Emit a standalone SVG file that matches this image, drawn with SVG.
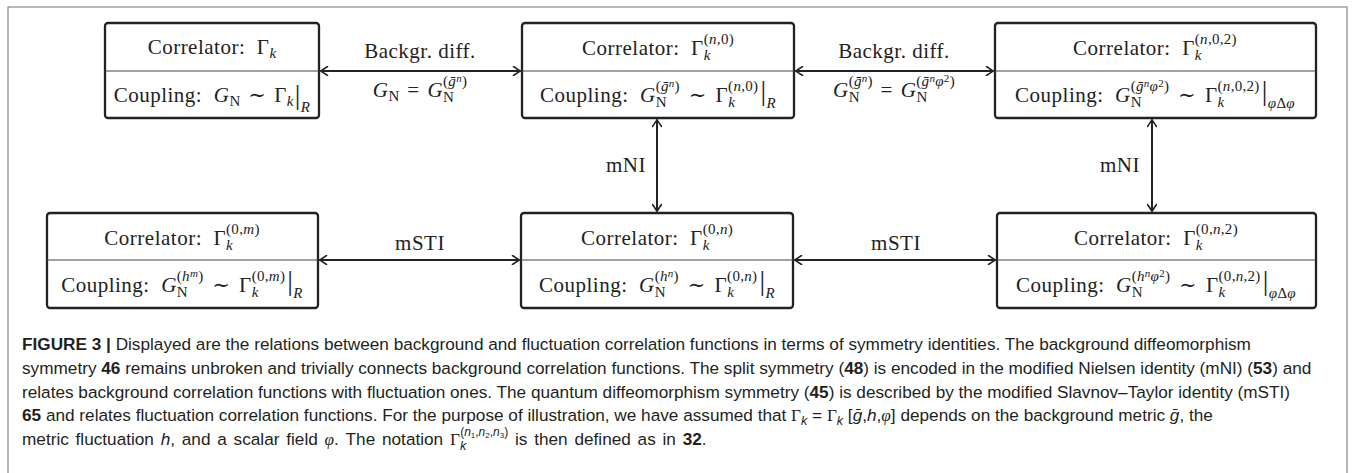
<svg xmlns="http://www.w3.org/2000/svg" width="1356" height="473" viewBox="0 0 1356 473">
<defs>
<marker id="ah" viewBox="-8 -5 10 10" refX="0" refY="0" markerWidth="10" markerHeight="10" markerUnits="userSpaceOnUse" orient="auto-start-reverse">
<path d="M -6.5,-4.5 Q -1.5,-1 0.5,0 Q -1.5,1 -6.5,4.5" fill="none" stroke="#222" stroke-width="1.6" stroke-linecap="round"/>
</marker>
<style>
.box{fill:#fff;stroke:#222;stroke-width:2.3}
.div{stroke:#444;stroke-width:1.1}
.m{font-family:"Liberation Serif","DejaVu Serif",serif;font-size:21px;letter-spacing:0.5px;fill:#222;text-anchor:middle}
.i{font-style:italic}
.s{font-size:15px;letter-spacing:0.3px}
.ss{font-size:11px}
.bar{font-size:28px}
.con{fill:none;stroke:#222;stroke-width:2;marker-start:url(#ah);marker-end:url(#ah)}
.cap{font-family:"Liberation Sans","Arimo",sans-serif;font-size:17.2px;fill:#231f20}
.b{font-weight:bold}
.mc{font-family:"Liberation Serif",serif}
</style>
</defs>
<rect x="8" y="7" width="1339" height="480" fill="#fff" stroke="#888" stroke-width="1.2"/>

<g id="connectors">
<line class="con" x1="321" y1="71" x2="520" y2="71"/>
<line class="con" x1="796" y1="71" x2="993" y2="71"/>
<line class="con" x1="657" y1="120" x2="657" y2="211"/>
<line class="con" x1="1152" y1="120" x2="1152" y2="211"/>
<line class="con" x1="320" y1="260" x2="519" y2="260"/>
<line class="con" x1="795" y1="260" x2="995" y2="260"/>
<text class="m" x="420" y="58">Backgr. diff.</text>
<text class="m" x="420" y="97"><tspan class="i">G</tspan><tspan class="s" dy="4">N</tspan><tspan dy="-4" dx="2"> = </tspan><tspan class="i" dx="2">G</tspan><tspan class="s" dy="5">N</tspan><tspan class="s" dx="-11.2" dy="-16">(<tspan class="i">ḡ</tspan><tspan class="ss i" dy="-4">n</tspan><tspan dy="4">)</tspan></tspan></text>
<text class="m" x="894" y="58">Backgr. diff.</text>
<text class="m" x="894" y="97"><tspan class="i">G</tspan><tspan class="s" dy="5">N</tspan><tspan class="s" dx="-11.2" dy="-16">(<tspan class="i">ḡ</tspan><tspan class="ss i" dy="-4">n</tspan><tspan dy="4">)</tspan></tspan><tspan dy="11" dx="2"> = </tspan><tspan class="i" dx="2">G</tspan><tspan class="s" dy="5">N</tspan><tspan class="s" dx="-11.2" dy="-16">(<tspan class="i">ḡ</tspan><tspan class="ss i" dy="-4">n</tspan><tspan class="i" dy="4">φ</tspan><tspan class="ss" dy="-4">2</tspan><tspan dy="4">)</tspan></tspan></text>
<text class="m" x="626" y="172">mNI</text>
<text class="m" x="1120" y="172">mNI</text>
<text class="m" x="420" y="250">mSTI</text>
<text class="m" x="896" y="250">mSTI</text>
</g>

<g id="n1">
<rect class="box" x="105" y="23" width="214" height="95" rx="3"/>
<line class="div" x1="105" y1="71" x2="319" y2="71"/>
<text class="m" x="212" y="54">Correlator: &#160;Γ<tspan class="s i" dy="4">k</tspan></text>
<text class="m" x="212" y="102">Coupling: &#160;<tspan class="i">G</tspan><tspan class="s" dy="4">N</tspan><tspan dy="-4" dx="2"> ∼ </tspan><tspan dx="2">Γ</tspan><tspan class="s i" dy="4">k</tspan><tspan class="bar" dy="-2" dx="1">|</tspan><tspan class="s i" dy="8">R</tspan></text>
</g>

<g id="n2">
<rect class="box" x="522" y="23" width="272" height="95" rx="3"/>
<line class="div" x1="522" y1="71" x2="794" y2="71"/>
<text class="m" x="658" y="55">Correlator: &#160;Γ<tspan class="s i" dy="5">k</tspan><tspan class="s" dx="-7" dy="-16">(<tspan class="i">n</tspan>,0)</tspan></text>
<text class="m" x="658" y="102">Coupling: &#160;<tspan class="i">G</tspan><tspan class="s" dy="5">N</tspan><tspan class="s" dx="-11.2" dy="-16">(<tspan class="i">ḡ</tspan><tspan class="ss i" dy="-4">n</tspan><tspan dy="4">)</tspan></tspan><tspan dy="11" dx="3"> ∼ </tspan><tspan dx="3">Γ</tspan><tspan class="s i" dy="5">k</tspan><tspan class="s" dx="-7" dy="-16">(<tspan class="i">n</tspan>,0)</tspan><tspan class="bar" dy="9" dx="2">|</tspan><tspan class="s i" dy="8">R</tspan></text>
</g>

<g id="n3">
<rect class="box" x="995" y="23" width="321" height="95" rx="3"/>
<line class="div" x1="995" y1="71" x2="1316" y2="71"/>
<text class="m" x="1155" y="55">Correlator: &#160;Γ<tspan class="s i" dy="5">k</tspan><tspan class="s" dx="-7" dy="-16">(<tspan class="i">n</tspan>,0,2)</tspan></text>
<text class="m" x="1155" y="102">Coupling: &#160;<tspan class="i">G</tspan><tspan class="s" dy="5">N</tspan><tspan class="s" dx="-11.2" dy="-16">(<tspan class="i">ḡ</tspan><tspan class="ss i" dy="-4">n</tspan><tspan class="i" dy="4">φ</tspan><tspan class="ss" dy="-4">2</tspan><tspan dy="4">)</tspan></tspan><tspan dy="11" dx="3"> ∼ </tspan><tspan dx="3">Γ</tspan><tspan class="s i" dy="5">k</tspan><tspan class="s" dx="-7" dy="-16">(<tspan class="i">n</tspan>,0,2)</tspan><tspan class="bar" dy="9" dx="2">|</tspan><tspan class="s i" dy="8">φ</tspan><tspan class="s">Δ</tspan><tspan class="s i">φ</tspan></text>
</g>

<g id="n4">
<rect class="box" x="47" y="213" width="271" height="95" rx="3"/>
<line class="div" x1="47" y1="260" x2="318" y2="260"/>
<text class="m" x="182" y="245">Correlator: &#160;Γ<tspan class="s i" dy="5">k</tspan><tspan class="s" dx="-7" dy="-16">(0,<tspan class="i">m</tspan>)</tspan></text>
<text class="m" x="182" y="292">Coupling: &#160;<tspan class="i">G</tspan><tspan class="s" dy="5">N</tspan><tspan class="s" dx="-11.2" dy="-16">(<tspan class="i">h</tspan><tspan class="ss i" dy="-4">m</tspan><tspan dy="4">)</tspan></tspan><tspan dy="11" dx="3"> ∼ </tspan><tspan dx="3">Γ</tspan><tspan class="s i" dy="5">k</tspan><tspan class="s" dx="-7" dy="-16">(0,<tspan class="i">m</tspan>)</tspan><tspan class="bar" dy="9" dx="2">|</tspan><tspan class="s i" dy="8">R</tspan></text>
</g>

<g id="n5">
<rect class="box" x="521" y="213" width="272" height="95" rx="3"/>
<line class="div" x1="521" y1="260" x2="793" y2="260"/>
<text class="m" x="657" y="245">Correlator: &#160;Γ<tspan class="s i" dy="5">k</tspan><tspan class="s" dx="-7" dy="-16">(0,<tspan class="i">n</tspan>)</tspan></text>
<text class="m" x="657" y="292">Coupling: &#160;<tspan class="i">G</tspan><tspan class="s" dy="5">N</tspan><tspan class="s" dx="-11.2" dy="-16">(<tspan class="i">h</tspan><tspan class="ss i" dy="-4">n</tspan><tspan dy="4">)</tspan></tspan><tspan dy="11" dx="3"> ∼ </tspan><tspan dx="3">Γ</tspan><tspan class="s i" dy="5">k</tspan><tspan class="s" dx="-7" dy="-16">(0,<tspan class="i">n</tspan>)</tspan><tspan class="bar" dy="9" dx="2">|</tspan><tspan class="s i" dy="8">R</tspan></text>
</g>

<g id="n6">
<rect class="box" x="997" y="213" width="319" height="95" rx="3"/>
<line class="div" x1="997" y1="260" x2="1316" y2="260"/>
<text class="m" x="1156" y="245">Correlator: &#160;Γ<tspan class="s i" dy="5">k</tspan><tspan class="s" dx="-7" dy="-16">(0,<tspan class="i">n</tspan>,2)</tspan></text>
<text class="m" x="1156" y="292">Coupling: &#160;<tspan class="i">G</tspan><tspan class="s" dy="5">N</tspan><tspan class="s" dx="-11.2" dy="-16">(<tspan class="i">h</tspan><tspan class="ss i" dy="-4">n</tspan><tspan class="i" dy="4">φ</tspan><tspan class="ss" dy="-4">2</tspan><tspan dy="4">)</tspan></tspan><tspan dy="11" dx="3"> ∼ </tspan><tspan dx="3">Γ</tspan><tspan class="s i" dy="5">k</tspan><tspan class="s" dx="-7" dy="-16">(0,<tspan class="i">n</tspan>,2)</tspan><tspan class="bar" dy="9" dx="2">|</tspan><tspan class="s i" dy="8">φ</tspan><tspan class="s">Δ</tspan><tspan class="s i">φ</tspan></text>
</g>

<g id="caption">
<text class="cap" x="22" y="350"><tspan class="b">FIGURE 3 | </tspan>Displayed are the relations between background and fluctuation correlation functions in terms of symmetry identities. The background diffeomorphism</text>
<text class="cap" x="22" y="374">symmetry <tspan class="b">46</tspan> remains unbroken and trivially connects background correlation functions. The split symmetry (<tspan class="b">48</tspan>) is encoded in the modified Nielsen identity (mNI) (<tspan class="b">53</tspan>) and</text>
<text class="cap" x="22" y="398">relates background correlation functions with fluctuation ones. The quantum diffeomorphism symmetry (<tspan class="b">45</tspan>) is described by the modified Slavnov–Taylor identity (mSTI)</text>
<text class="cap" x="22" y="421"><tspan class="b">65</tspan> and relates fluctuation correlation functions. For the purpose of illustration, we have assumed that <tspan class="mc">Γ</tspan><tspan class="i" font-size="12.5" dy="4">k</tspan><tspan dy="-4"> = </tspan><tspan class="mc">Γ</tspan><tspan class="i" font-size="12.5" dy="4">k</tspan><tspan dy="-4"> [</tspan><tspan class="i">ḡ</tspan>,<tspan class="i">h</tspan>,<tspan class="i mc">φ</tspan>] depends on the background metric <tspan class="i">ḡ</tspan>, the</text>
<text class="cap" x="22" y="445" word-spacing="2">metric fluctuation <tspan class="i">h</tspan>, and a scalar field <tspan class="i mc">φ</tspan>. The notation <tspan class="mc">Γ</tspan><tspan class="i" font-size="12.5" dy="5">k</tspan><tspan font-size="12" dx="-6" dy="-14">(<tspan class="i">n</tspan><tspan font-size="8" dy="2">1</tspan><tspan dy="-2">,</tspan><tspan class="i">n</tspan><tspan font-size="8" dy="2">2</tspan><tspan dy="-2">,</tspan><tspan class="i">n</tspan><tspan font-size="8" dy="2">3</tspan><tspan dy="-2">)</tspan></tspan><tspan dy="9"> is then defined as in </tspan><tspan class="b">32</tspan>.</text>
</g>
</svg>
